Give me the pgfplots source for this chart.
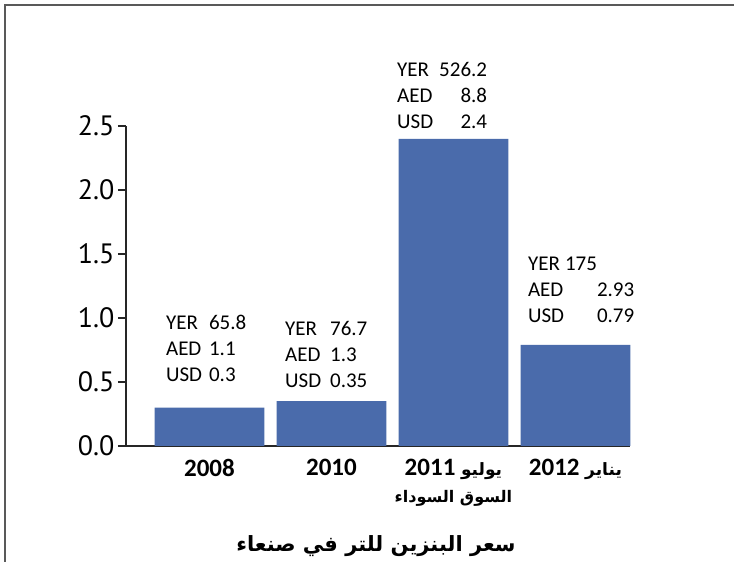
\documentclass[border=0pt]{standalone}
\usepackage{pgfplots}
\pgfplotsset{compat=1.18}
\usepackage{fontspec}
\setmainfont{Carlito}
\newfontfamily\tickfont{PT Sans}
\newfontfamily\arabicfont[Script=Arabic]{DejaVu Sans}
\TeXXeTstate=1
\definecolor{barblue}{RGB}{74,107,171}
\begin{document}
\begin{tikzpicture}
\path[use as bounding box] (0bp,0bp) rectangle (734bp,562bp);
\draw[black!65, line width=1.6bp] (5bp,0bp) -- (5bp,557bp) -- (734bp,557bp);
\begin{axis}[
  at={(126bp,116bp)}, anchor=south west,
  scale only axis,
  width=504.3bp, height=320bp,
  xmin=-0.684, xmax=3.45, ymin=0, ymax=2.5,
  axis x line*=bottom, axis y line*=left,
  axis line style={line width=1.2bp, black!85},
  ybar, bar width=0.9,
  xtick={0,1,2,3},
  xticklabels={2008, 2010, {2011 {\arabicfont\bfseries\fontsize{17bp}{18bp}\selectfont\beginR يوليو\endR}\\[-1bp]{\arabicfont\bfseries\fontsize{16bp}{18bp}\selectfont\beginR السوق السوداء\endR}}, {2012 {\arabicfont\bfseries\fontsize{17bp}{18bp}\selectfont\beginR يناير\endR}}},
  xtick style={draw=none},
  x tick label style={font=\bfseries\fontsize{25bp}{28bp}\selectfont, align=center, anchor=north, yshift=-2bp},
  ytick={0,0.5,1,1.5,2,2.5},
  yticklabel style={font=\tickfont\fontsize{28bp}{30bp}\selectfont, /pgf/number format/.cd, fixed, fixed zerofill, precision=1, assume math mode=true},
  tick align=outside, major tick length=8bp,
  ytick style={line width=1.2bp, black!85},
  clip=false,
]
\addplot[fill=barblue, draw=none] coordinates {(0,0.3) (1,0.35) (2,2.4) (3,0.79)};
\node[anchor=base west, inner sep=0pt, font=\fontsize{21bp}{26bp}\selectfont] at (axis cs:-0.357,0.50)
  {\begin{tabular}[b]{@{}l@{}}\makebox[43bp][l]{YER}65.8\\ \makebox[43bp][l]{AED}1.1\\ \makebox[43bp][l]{USD}0.3\end{tabular}};
\node[anchor=base west, inner sep=0pt, font=\fontsize{21bp}{26bp}\selectfont] at (axis cs:0.619,0.457)
  {\begin{tabular}[b]{@{}l@{}}\makebox[45bp][l]{YER}76.7\\ \makebox[45bp][l]{AED}1.3\\ \makebox[45bp][l]{USD}0.35\end{tabular}};
\node[anchor=base west, inner sep=0pt, font=\fontsize{21bp}{26bp}\selectfont] at (axis cs:1.537,2.48)
  {\begin{tabular}[b]{@{}l@{}}\makebox[40bp][l]{YER}\makebox[50bp][r]{526.2}\\ \makebox[40bp][l]{AED}\makebox[50bp][r]{8.8}\\ \makebox[40bp][l]{USD}\makebox[50bp][r]{2.4}\end{tabular}};
\node[anchor=base west, inner sep=0pt, font=\fontsize{21bp}{26bp}\selectfont] at (axis cs:2.61,0.965)
  {\begin{tabular}[b]{@{}l@{}}\makebox[37bp][l]{YER}175\\ \makebox[69bp][l]{AED}2.93\\ \makebox[69bp][l]{USD}0.79\end{tabular}};
\end{axis}
\node[font=\arabicfont\bfseries\fontsize{21bp}{24bp}\selectfont] at (376bp,16bp) {\beginR سعر البنزين للتر في صنعاء\endR};
\end{tikzpicture}
\end{document}
